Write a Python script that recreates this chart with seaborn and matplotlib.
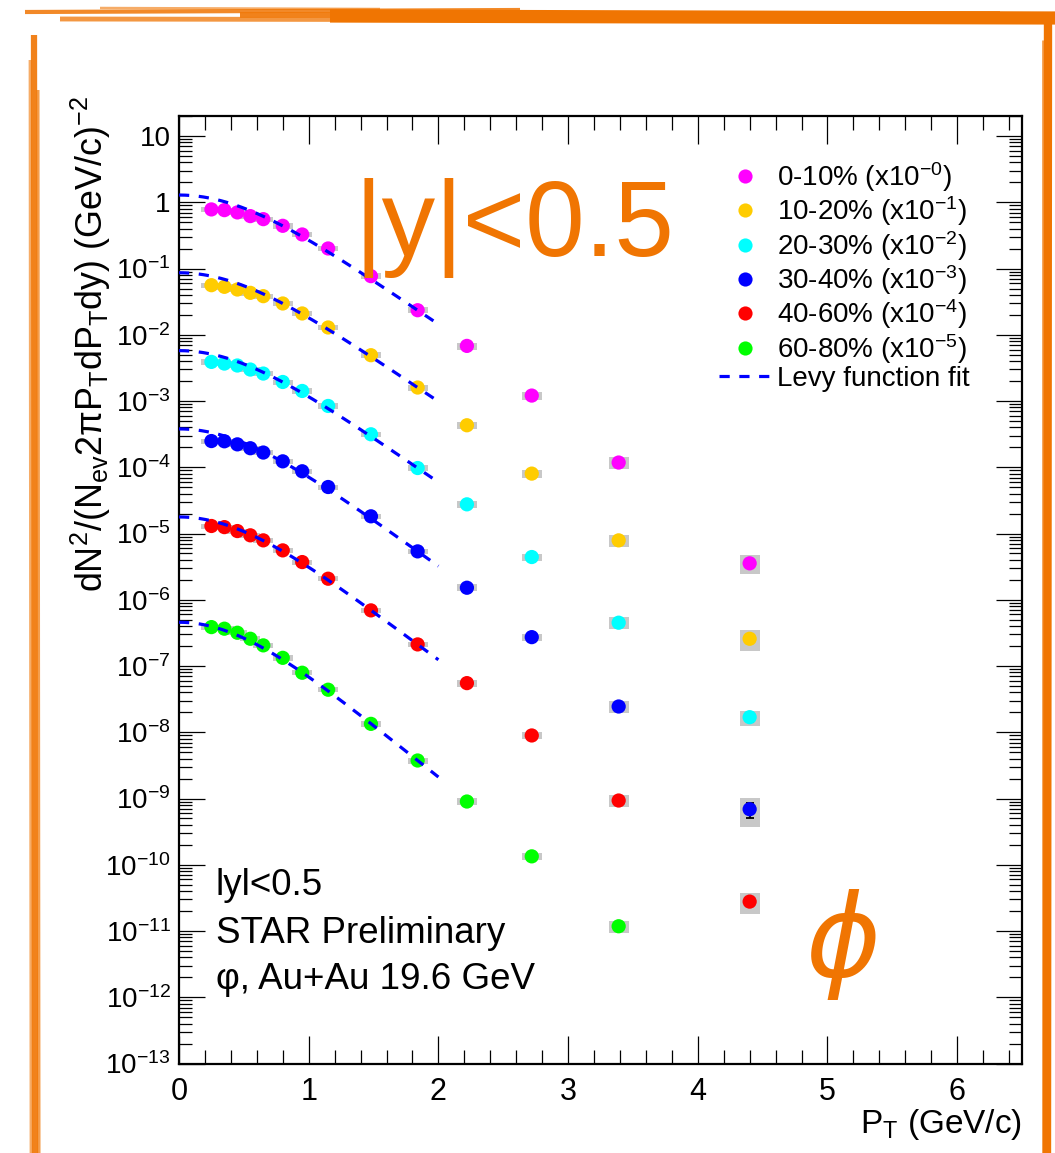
import numpy as np
import pandas as pd
import matplotlib
matplotlib.use("Agg")
import matplotlib.pyplot as plt
from matplotlib.lines import Line2D
from matplotlib.ticker import LogLocator, MultipleLocator, FuncFormatter, NullFormatter
import seaborn as sns

# ---------------- data ----------------
pt_bins = [0.25, 0.35, 0.45, 0.55, 0.65, 0.80, 0.95, 1.15, 1.48, 1.84, 2.22, 2.72, 3.39, 4.40]

centralities = ["0-10%", "10-20%", "20-30%", "30-40%", "40-60%", "60-80%"]
scale_powers = [0, 1, 2, 3, 4, 5]
colors = ["#FF00FF", "#FFCC00", "#00FFFF", "#0000FF", "#FF0000", "#00FF00"]

# invariant yields d2N/(Nev 2pi pT dpT dy), unscaled
yield_0_10 = [0.781, 0.762, 0.704, 0.619, 0.557, 0.442, 0.327, 0.201, 0.0768, 0.0235,
              6.80e-3, 1.21e-3, 1.18e-4, 3.55e-6]
yield_10_20 = [0.561, 0.530, 0.483, 0.430, 0.383, 0.297, 0.210, 0.129, 0.0492, 0.0160,
               4.31e-3, 8.03e-4, 7.89e-5, 2.58e-6]
yield_20_30 = [0.390, 0.368, 0.344, 0.299, 0.260, 0.194, 0.142, 0.0843, 0.0315, 9.75e-3,
               2.76e-3, 4.42e-4, 4.51e-5, 1.69e-6]
yield_30_40 = [0.249, 0.247, 0.222, 0.194, 0.167, 0.123, 0.0871, 0.0504, 0.0182, 5.38e-3,
               1.52e-3, 2.73e-4, 2.45e-5, 6.89e-7]
yield_40_60 = [0.130, 0.125, 0.109, 0.0940, 0.0789, 0.0557, 0.0371, 0.0208, 6.92e-3, 2.12e-3,
               5.52e-4, 8.95e-5, 9.33e-6, 2.78e-7]
yield_60_80 = [0.0387, 0.0366, 0.0318, 0.0258, 0.0205, 0.0133, 7.92e-3, 4.39e-3, 1.34e-3, 3.75e-4,
               9.01e-5, 1.34e-5, 1.18e-6]

# relative systematic uncertainties
sys_0_10 = [0.09, 0.09, 0.09, 0.09, 0.09, 0.09, 0.09, 0.09, 0.10, 0.10, 0.12, 0.13, 0.21, 0.32]
sys_10_20 = [0.09, 0.09, 0.09, 0.09, 0.09, 0.09, 0.09, 0.09, 0.10, 0.10, 0.12, 0.13, 0.21, 0.34]
sys_20_30 = [0.09, 0.09, 0.09, 0.09, 0.09, 0.09, 0.09, 0.09, 0.10, 0.10, 0.12, 0.13, 0.21, 0.26]
sys_30_40 = [0.09, 0.09, 0.09, 0.09, 0.09, 0.09, 0.09, 0.09, 0.10, 0.10, 0.12, 0.13, 0.21, 0.46]
sys_40_60 = [0.09, 0.09, 0.09, 0.09, 0.09, 0.09, 0.09, 0.09, 0.10, 0.10, 0.12, 0.13, 0.21, 0.34]
sys_60_80 = [0.09, 0.09, 0.09, 0.09, 0.09, 0.09, 0.09, 0.09, 0.10, 0.10, 0.12, 0.13, 0.21]

# relative statistical uncertainties
stat_0_10 = [0.02, 0.02, 0.02, 0.02, 0.02, 0.02, 0.02, 0.03, 0.03, 0.04, 0.05, 0.07, 0.10, 0.15]
stat_10_20 = [0.02, 0.02, 0.02, 0.02, 0.02, 0.02, 0.02, 0.03, 0.03, 0.04, 0.05, 0.07, 0.10, 0.15]
stat_20_30 = [0.02, 0.02, 0.02, 0.02, 0.02, 0.02, 0.02, 0.03, 0.03, 0.04, 0.05, 0.07, 0.10, 0.15]
stat_30_40 = [0.02, 0.02, 0.02, 0.02, 0.02, 0.02, 0.02, 0.03, 0.03, 0.04, 0.05, 0.07, 0.10, 0.26]
stat_40_60 = [0.02, 0.02, 0.02, 0.02, 0.02, 0.02, 0.02, 0.03, 0.03, 0.04, 0.05, 0.07, 0.10, 0.15]
stat_60_80 = [0.02, 0.02, 0.02, 0.02, 0.02, 0.02, 0.02, 0.03, 0.03, 0.04, 0.05, 0.07, 0.10]

yields = [yield_0_10, yield_10_20, yield_20_30, yield_30_40, yield_40_60, yield_60_80]
sys_errs = [sys_0_10, sys_10_20, sys_20_30, sys_30_40, sys_40_60, sys_60_80]
stat_errs = [stat_0_10, stat_10_20, stat_20_30, stat_30_40, stat_40_60, stat_60_80]

# Levy function fit parameters per centrality
levy_dndy = [2.734, 1.844, 1.195, 0.745, 0.3317, 0.0769]
levy_T = [0.253, 0.254, 0.248, 0.237, 0.227, 0.208]
levy_n = [30.0, 30.0, 30.0, 30.0, 30.0, 30.0]
fit_range = (0.0, 2.0)
PHI_MASS = 1.019461


def levy(pt, dndy, T, n, m=PHI_MASS):
    mt = np.sqrt(pt ** 2 + m ** 2)
    norm = dndy / (2 * np.pi) * (n - 1) * (n - 2) / (n * T * (n * T + m * (n - 2)))
    return norm * (1 + (mt - m) / (n * T)) ** (-n)


# long table of scaled points
rows = []
for cent, p, ys, se, st in zip(centralities, scale_powers, yields, sys_errs, stat_errs):
    for x, y, s, e in zip(pt_bins, ys, se, st):
        rows.append({"pT": x, "value": y * 10.0 ** (-p), "sys": s, "stat": e, "centrality": cent})
df = pd.DataFrame(rows)

# ---------------- style ----------------
sns.set_theme(style="ticks")
plt.rcParams["font.family"] = ["Liberation Sans", "DejaVu Sans"]
plt.rcParams["mathtext.fontset"] = "custom"
plt.rcParams["mathtext.rm"] = "Liberation Sans"
plt.rcParams["mathtext.it"] = "Liberation Sans:italic"
plt.rcParams["mathtext.bf"] = "Liberation Sans:bold"
plt.rcParams["axes.unicode_minus"] = True
for key in ["text.color", "axes.labelcolor", "xtick.color", "ytick.color",
            "xtick.labelcolor", "ytick.labelcolor", "axes.edgecolor"]:
    plt.rcParams[key] = "black"

W, H = 1055, 1153
fig = plt.figure(figsize=(W / 100, H / 100), dpi=100)
fig.patch.set_facecolor("white")


def fx(px):
    return px / W


def fy(py):
    return 1 - py / H


ax = fig.add_axes([fx(179), fy(1063.5), fx(1022) - fx(179), fy(115.7) - fy(1063.5)])
ax.set_yscale("log")
ax.set_xlim(0, 6.5)
ax.set_ylim(1e-13, 20.3)

# systematic boxes
box_w = 0.155
ax.bar(df["pT"], df["value"] * (2 * df["sys"]), bottom=df["value"] * (1 - df["sys"]),
       width=box_w, color="#C8C8C8", linewidth=0, zorder=1)

# statistical error bars
ax.errorbar(df["pT"], df["value"],
            yerr=[df["value"] * df["stat"], df["value"] * df["stat"]],
            fmt="none", ecolor="black", elinewidth=1.3, capsize=3, capthick=1.3, zorder=2)

# data points
sns.scatterplot(data=df, x="pT", y="value", hue="centrality", hue_order=centralities,
                palette=colors, s=105, edgecolor="none", linewidth=0, legend=False,
                zorder=3, ax=ax)

# Levy fits
pt_grid = np.linspace(fit_range[0], fit_range[1], 300)
for p, dndy, T, n in zip(scale_powers, levy_dndy, levy_T, levy_n):
    sns.lineplot(x=pt_grid, y=levy(pt_grid, dndy, T, n) * 10.0 ** (-p), ax=ax,
                 color="#0000FF", linewidth=2.3, linestyle=(0, (3.2, 3.0)), zorder=4)

# axes decoration
ax.set_xlabel("")
ax.set_ylabel("")
for sp in ax.spines.values():
    sp.set_linewidth(1.6)
    sp.set_color("black")

ax.xaxis.set_major_locator(MultipleLocator(1))
ax.xaxis.set_minor_locator(MultipleLocator(0.2))
ax.yaxis.set_major_locator(LogLocator(base=10, numticks=40))
ax.yaxis.set_minor_locator(LogLocator(base=10, subs=np.arange(2, 10), numticks=400))
ax.yaxis.set_minor_formatter(NullFormatter())


def ytick_label(v, pos):
    e = int(round(np.log10(v)))
    if e == 1:
        return "10"
    if e == 0:
        return "1"
    return r"$10^{%d}$" % e


ax.yaxis.set_major_formatter(FuncFormatter(ytick_label))
ax.tick_params(axis="both", which="both", direction="in", top=True, right=True,
               color="black", width=0.9, labelcolor="black")
ax.tick_params(axis="x", which="major", length=20, labelsize=22, pad=10)
ax.tick_params(axis="x", which="minor", length=10)
ax.tick_params(axis="y", which="major", length=18.7, labelsize=20, pad=6)
ax.tick_params(axis="y", which="minor", length=9.4)

# axis titles
fig.text(fx(91), fy(96), r"dN$^{2}$/(N$_{\rm ev}$2πP$_{\rm T}$dP$_{\rm T}$dy) (GeV/c)$^{-2}$",
         rotation=90, ha="center", va="top", fontsize=25.8)
fig.text(fx(1022), fy(1124), r"P$_{\rm T}$ (GeV/c)", ha="right", va="center", fontsize=24)

# legend
handles = [Line2D([], [], linestyle="none", marker="o", markersize=10.2,
                  markerfacecolor=c, markeredgecolor="none") for c in colors]
labels = [r"%s (x10$^{-%d}$)" % (c, p) for c, p in zip(centralities, scale_powers)]
handles.append(Line2D([], [], color="#0000FF", linewidth=2.3, linestyle=(0, (3.2, 3.0))))
labels.append("Levy function fit")
ax.legend(handles, labels, loc="upper left", bbox_to_anchor=(fx(719), fy(160)),
          bbox_transform=fig.transFigure, frameon=False, fontsize=20,
          handlelength=1.9, handletextpad=0.2, labelspacing=0.02,
          borderpad=0, borderaxespad=0)

# annotations
orange = "#F07502"
fig.text(fx(355), fy(256), "|y|<0.5", color=orange, fontsize=77, ha="left", va="baseline")
fig.text(fx(843), fy(945), "ϕ", color=orange, fontsize=82, fontstyle="italic",
         family=["DejaVu Sans"], ha="center", va="center")
fig.text(fx(216), fy(895), "lyl<0.5", fontsize=26.5, ha="left", va="baseline")
fig.text(fx(216), fy(943), "STAR Preliminary", fontsize=26.5, ha="left", va="baseline")
fig.text(fx(216), fy(989), "φ, Au+Au 19.6 GeV", fontsize=26.5, ha="left", va="baseline")

# hand-painted orange frame
frame_strokes = [
    # (x0, y0, x1, y1, width_pt, alpha)
    (330, 16, 1055, 18, 9.5, 1.0),
    (25, 12, 520, 10, 3.0, 0.85),
    (60, 19, 700, 20, 3.5, 0.75),
    (240, 15, 1000, 14, 4.0, 0.9),
    (100, 8, 380, 9, 1.8, 0.6),
    (34, 35, 35, 1153, 4.5, 0.9),
    (30, 60, 31, 1153, 2.0, 0.6),
    (38, 90, 39, 1153, 2.2, 0.7),
    (1048, 20, 1047, 1153, 6.0, 1.0),
    (1043, 40, 1043, 1153, 2.0, 0.7),
]
for x0, y0, x1, y1, lw, a in frame_strokes:
    fig.add_artist(Line2D([fx(x0), fx(x1)], [fy(y0), fy(y1)], transform=fig.transFigure,
                          color=orange, linewidth=lw, alpha=a, solid_capstyle="butt"))

fig.savefig("out.png", dpi=100, facecolor="white")
